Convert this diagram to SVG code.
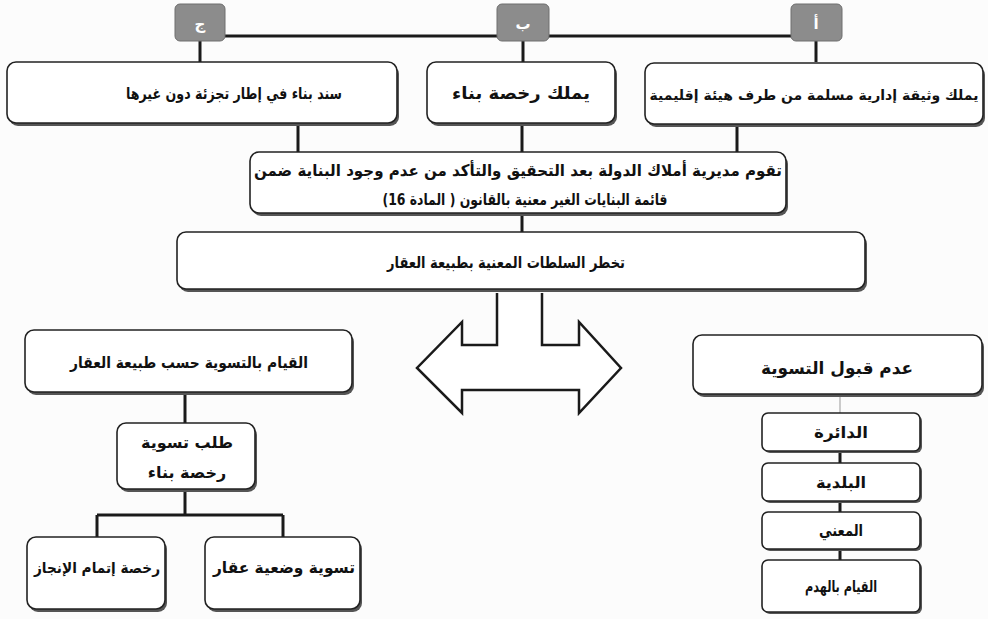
<svg xmlns="http://www.w3.org/2000/svg" width="988" height="619" viewBox="0 0 988 619">
<style>
.bx{fill:#fff;stroke:#222;stroke-width:1.6}
.sh{fill:#555}
.lb{fill:#8c8c8c;stroke:#6e6e6e;stroke-width:1}
.lt{font-family:"DejaVu Sans",sans-serif;font-weight:bold;font-size:15px;fill:#fff;text-anchor:middle}
.t{font-family:"DejaVu Sans",sans-serif;font-weight:bold;font-size:16px;fill:#111;text-anchor:middle}
.s14{font-size:14px}
.s15{font-size:15px}
.s17{font-size:17px}
.c{fill:none;stroke:#1a1a1a;stroke-width:3}
.thin{fill:none;stroke:#999;stroke-width:1}
</style>
<rect width="988" height="619" fill="#fcfcfc"/>
<g id="connectors">
<path class="c" d="M225,36 H791"/>
<path class="c" d="M200,41 V62 M523,41 V62 M816,41 V62"/>
<path class="c" d="M298,124 V152 M522,124 V152 M737,126 V152"/>
<path class="c" d="M522,214 V232"/>
<path class="c" d="M185,395 V423"/>
<path class="c" d="M185,492 V515 M97,515 H283 M97,515 V537 M283,515 V537"/>
<path class="c" d="M840,452 V463 M840,502 V512 M840,550 V560"/>
<path class="thin" d="M840,397 V413"/>
<path d="M497,293 V345 H462 V322 L417,368 L462,413 V390 H579 V413 L621,368 L579,322 V345 H542 V293" fill="#fff" stroke="#1a1a1a" stroke-width="2.5" stroke-linejoin="miter"/>
</g>
<g id="label-j"><rect class="lb" x="175" y="4" width="50" height="37" rx="5"/><text class="lt" x="200" y="29">ج</text></g>
<g id="label-b"><rect class="lb" x="497" y="4" width="52" height="37" rx="5"/><text class="lt" x="523" y="29">ب</text></g>
<g id="label-a"><rect class="lb" x="791" y="4" width="51" height="37" rx="5"/><text class="lt" x="816" y="29">أ</text></g>
<g id="box-sanad"><rect class="sh" x="9" y="65" width="390" height="61" rx="9"/><rect class="bx" x="7" y="62" width="390" height="61" rx="9"/><text class="t" x="234" y="99" textLength="216" lengthAdjust="spacingAndGlyphs">سند بناء في إطار تجزئة دون غيرها</text></g>
<g id="box-rokhsa"><rect class="sh" x="429" y="65" width="188" height="61" rx="9"/><rect class="bx" x="427" y="62" width="188" height="61" rx="9"/><text class="t s17" x="521" y="99" textLength="138" lengthAdjust="spacingAndGlyphs">يملك رخصة  بناء</text></g>
<g id="box-wathiqa"><rect class="sh" x="647" y="66" width="338" height="61" rx="9"/><rect class="bx" x="645" y="63" width="338" height="61" rx="9"/><text class="t s14" x="814" y="100">يملك وثيقة إدارية مسلمة من طرف هيئة إقليمية</text></g>
<g id="box-modiria"><rect class="sh" x="252" y="155" width="536" height="61" rx="9"/><rect class="bx" x="250" y="152" width="536" height="61" rx="9"/><text class="t" x="518" y="176" textLength="528" lengthAdjust="spacingAndGlyphs">تقوم مديرية أملاك الدولة بعد التحقيق والتأكد من عدم وجود البناية ضمن</text><text class="t" x="525" y="205" direction="rtl" textLength="285" lengthAdjust="spacingAndGlyphs">قائمة البنايات الغير معنية بالقانون ( المادة 16)</text></g>
<g id="box-tokhter"><rect class="sh" x="179" y="235" width="688" height="57" rx="9"/><rect class="bx" x="177" y="232" width="688" height="57" rx="9"/><text class="t" x="506" y="268" textLength="238" lengthAdjust="spacingAndGlyphs">تخطر السلطات المعنية بطبيعة العقار</text></g>
<g id="box-taswiya"><rect class="sh" x="27" y="333" width="327" height="62" rx="9"/><rect class="bx" x="25" y="330" width="327" height="62" rx="9"/><text class="t" x="189" y="368" textLength="238" lengthAdjust="spacingAndGlyphs">القيام بالتسوية حسب طبيعة العقار</text></g>
<g id="box-talab"><rect class="sh" x="119" y="426" width="138" height="66" rx="9"/><rect class="bx" x="117" y="423" width="138" height="66" rx="9"/><text class="t" x="187" y="448">طلب تسوية</text><text class="t" x="187" y="478">رخصة بناء</text></g>
<g id="box-itmam"><rect class="sh" x="29" y="540" width="138" height="72" rx="9"/><rect class="bx" x="27" y="537" width="138" height="72" rx="9"/><text class="t s15" x="97" y="573" textLength="126" lengthAdjust="spacingAndGlyphs">رخصة إتمام الإنجاز</text></g>
<g id="box-wadiya"><rect class="sh" x="207" y="540" width="155" height="72" rx="9"/><rect class="bx" x="205" y="537" width="155" height="72" rx="9"/><text class="t" x="284" y="573" textLength="142" lengthAdjust="spacingAndGlyphs">تسوية وضعية عقار</text></g>
<g id="box-adam"><rect class="sh" x="695" y="338" width="289" height="59" rx="9"/><rect class="bx" x="693" y="335" width="289" height="59" rx="9"/><text class="t s17" x="837" y="374" textLength="152" lengthAdjust="spacingAndGlyphs">عدم قبول التسوية</text></g>
<g id="box-daira"><rect class="sh" x="764" y="415" width="158" height="38" rx="6"/><rect class="bx" x="762" y="413" width="158" height="38" rx="6"/><text class="t" x="841" y="438" textLength="54" lengthAdjust="spacingAndGlyphs">الدائرة</text></g>
<g id="box-baladia"><rect class="sh" x="764" y="465" width="158" height="38" rx="6"/><rect class="bx" x="762" y="463" width="158" height="38" rx="6"/><text class="t" x="841" y="488" textLength="50" lengthAdjust="spacingAndGlyphs">البلدية</text></g>
<g id="box-maani"><rect class="sh" x="764" y="514" width="158" height="37" rx="6"/><rect class="bx" x="762" y="512" width="158" height="37" rx="6"/><text class="t" x="841" y="536" textLength="44" lengthAdjust="spacingAndGlyphs">المعني</text></g>
<g id="box-hadm"><rect class="sh" x="764" y="562" width="158" height="52" rx="6"/><rect class="bx" x="762" y="560" width="158" height="52" rx="6"/><text class="t" x="841" y="592" textLength="72" lengthAdjust="spacingAndGlyphs">القيام بالهدم</text></g>
</svg>
